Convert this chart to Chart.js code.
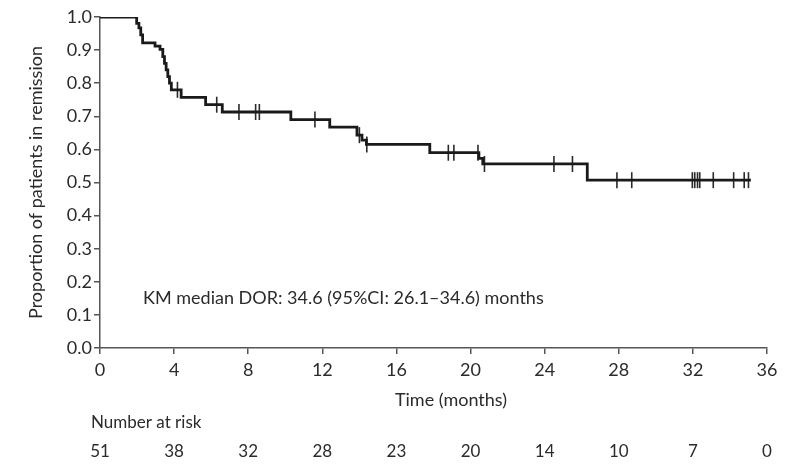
<!DOCTYPE html>
<html lang="en">
<head>
    <meta charset="UTF-8">
    <title>KM duration of remission</title>
    <script src="https://cdn.jsdelivr.net/npm/chart.js"></script>
    <style>
        body {
            margin: 0;
            background-color: #ffffff;
        }
        .chart-container {
            width: 786px;
            height: 465px;
        }
    </style>
</head>
<body>
    <div class="chart-container">
        <canvas id="kmChart"></canvas>
    </div>

    <script>
        // KM step curve: time (months) of each drop and the proportion after it
        const kmTimes = [0, 1.98, 2.1, 2.2, 2.3, 2.97, 3.24, 3.39, 3.48, 3.57, 3.66, 3.75, 3.85, 4.38, 5.7, 6.6, 10.3, 12.4, 13.87, 14.14, 14.38, 17.8, 20.45, 20.66, 26.3, 35.13];
        const kmProp  = [1.0, 0.981, 0.967, 0.946, 0.922, 0.912, 0.902, 0.88, 0.86, 0.84, 0.82, 0.80, 0.78, 0.757, 0.735, 0.713, 0.69, 0.667, 0.643, 0.628, 0.615, 0.59, 0.573, 0.556, 0.507, 0.507];

        // censored observations (months)
        const censorTimes = [4.18, 6.3, 7.5, 8.4, 8.6, 11.6, 14.0, 14.4, 18.8, 19.1, 20.4, 20.75, 24.5, 25.5, 27.9, 28.7, 31.97, 32.1, 32.25, 32.37, 33.1, 34.2, 34.77, 35.0];

        const xTicks = [0, 4, 8, 12, 16, 20, 24, 28, 32, 36];
        const atRisk = [51, 38, 32, 28, 23, 20, 14, 10, 7, 0];

        const annotation = 'KM median DOR: 34.6 (95%CI: 26.1\u201334.6) months';
        const fontFamily = 'Lato, "Open Sans", sans-serif';
        const textColor = '#2b2b2b';
        const axisColor = '#555555';

        function propAt(t) {
            let v = kmProp[0];
            for (let i = 0; i < kmTimes.length; i++) {
                if (kmTimes[i] <= t) v = kmProp[i];
            }
            return v;
        }

        const curve = kmTimes.map((t, i) => ({ x: t, y: kmProp[i] }));
        const censored = censorTimes.map(t => ({ x: t, y: propAt(t) }));

        // extra text: x title, annotation, number at risk table
        const extrasPlugin = {
            id: 'extras',
            afterDraw(chart) {
                const ctx = chart.ctx;
                const xs = chart.scales.x;
                const ys = chart.scales.y;
                ctx.save();
                ctx.fillStyle = textColor;
                ctx.textBaseline = 'middle';

                ctx.font = '18px ' + fontFamily;
                ctx.textAlign = 'left';
                ctx.fillText(annotation, 143, ys.getPixelForValue(0.15));

                ctx.textAlign = 'center';
                ctx.fillText('Time (months)', 451, 400);

                ctx.font = '17px ' + fontFamily;
                ctx.textAlign = 'left';
                ctx.fillText('Number at risk', 91, 423);

                ctx.textAlign = 'center';
                xTicks.forEach((t, i) => {
                    ctx.fillText(String(atRisk[i]), xs.getPixelForValue(t), 452);
                });
                ctx.restore();
            }
        };

        const kmChart = new Chart(document.getElementById('kmChart'), {
            type: 'scatter',
            data: {
                datasets: [{
                    type: 'line',
                    label: 'KM',
                    data: curve,
                    stepped: true,
                    borderColor: '#1a1a1a',
                    borderWidth: 2.8,
                    pointRadius: 0,
                    fill: false
                }, {
                    label: 'Censored',
                    data: censored,
                    pointStyle: 'line',
                    rotation: 90,
                    radius: 8,
                    borderColor: '#2a2a2a',
                    borderWidth: 1.6,
                    backgroundColor: '#2a2a2a'
                }]
            },
            plugins: [extrasPlugin],
            options: {
                responsive: true,
                maintainAspectRatio: false,
                animation: false,
                layout: { padding: { top: 17, right: 19, left: 0, bottom: 0 } },
                plugins: {
                    legend: { display: false },
                    tooltip: { enabled: false }
                },
                scales: {
                    x: {
                        type: 'linear',
                        min: 0,
                        max: 36,
                        afterFit(scale) { scale.height = 117; },
                        afterBuildTicks(scale) {
                            scale.ticks = xTicks.map(v => ({ value: v }));
                        },
                        grid: { drawOnChartArea: false, drawTicks: true, tickLength: 6, color: axisColor, lineWidth: 1.5 },
                        border: { color: axisColor, width: 1.5 },
                        ticks: {
                            color: textColor,
                            font: { family: fontFamily, size: 18 },
                            padding: 5,
                            maxRotation: 0
                        }
                    },
                    y: {
                        min: 0,
                        max: 1,
                        afterFit(scale) { scale.width = 100; },
                        grid: { drawOnChartArea: false, drawTicks: true, tickLength: 6, color: axisColor, lineWidth: 1.5 },
                        border: { color: axisColor, width: 1.5 },
                        ticks: {
                            stepSize: 0.1,
                            color: textColor,
                            font: { family: fontFamily, size: 18 },
                            padding: 2,
                            callback: v => v.toFixed(1)
                        },
                        title: {
                            display: true,
                            text: 'Proportion of patients in remission',
                            color: textColor,
                            font: { family: fontFamily, size: 18 },
                            padding: { top: 25, bottom: 0 }
                        }
                    }
                }
            }
        });
    </script>
</body>
</html>
